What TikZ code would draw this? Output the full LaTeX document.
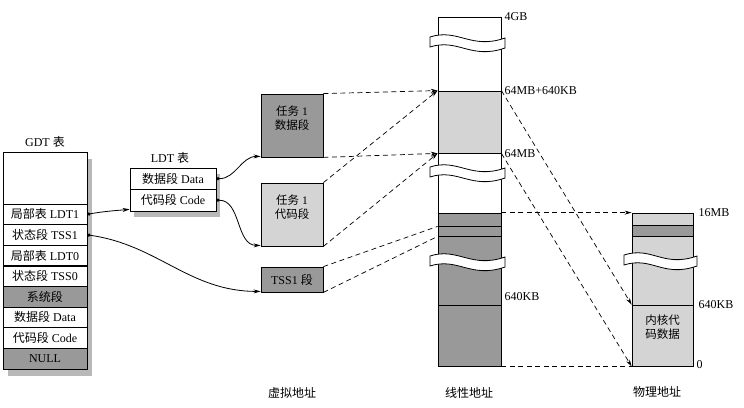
\documentclass[tikz,border=0pt]{standalone}
\usepackage{fontspec}
\setmainfont{Liberation Serif}
\newfontfamily\cjk{Noto Sans CJK SC}
\usetikzlibrary{arrows.meta}
\definecolor{segdark}{gray}{0.6}
\definecolor{seglight}{gray}{0.83}
\definecolor{boxshade}{gray}{0.72}
\newcommand{\zh}[1]{{\cjk #1}}
% wavy break band across a column: left x, right x, centre y
\newcommand{\brkband}[3]{%
  \draw[fill=white] (#1-8,#3-5) .. controls (#1+20,#3-14) and (#2-30,#3+8) .. (#2+4,#3-4)
    -- (#2+4,#3+6) .. controls (#2-30,#3+18) and (#1+20,#3-4) .. (#1-8,#3+5) -- cycle;}

\begin{document}
\begin{tikzpicture}[x=1pt, y=-1pt, line width=0.8pt,
  font=\fontsize{12pt}{13pt}\selectfont,
  gdtrow/.style={draw, rectangle, fill=white, minimum width=84pt, minimum height=20.6pt, inner sep=0pt},
  ldtrow/.style={draw, rectangle, fill=white, minimum width=86pt, minimum height=21.5pt, inner sep=0pt},
  seg/.style={draw, rectangle, minimum width=62pt, inner sep=0pt, align=center},
  twoline/.style={font=\fontsize{11.5pt}{14pt}\selectfont},
  lincol/.style={draw, rectangle, minimum width=63pt, inner sep=0pt},
  phycol/.style={draw, rectangle, minimum width=61pt, inner sep=0pt, align=center},
  arrow/.style={{Circle[length=3.2pt]}-{Stealth[length=7pt,width=4pt]}},
  dashline/.style={dash pattern=on 5pt off 3.5pt, line width=0.7pt},
  dasharrow/.style={dashline, -{Stealth[length=7pt,width=4pt]}}
]
\useasboundingbox (0,0) rectangle (744,407);

% GDT table
\fill[boxshade] (8,159) rectangle (92,376);
\node at (45,142) {GDT \zh{表}};
\node[gdtrow, minimum height=52pt] (gtop) at (45,178) {};
\node[gdtrow] (gldt1) at (45,214.3) {\zh{局部表} LDT1};
\node[gdtrow] (gtss1) at (45,234.9) {\zh{状态段} TSS1};
\node[gdtrow] (gldt0) at (45,255.5) {\zh{局部表} LDT0};
\node[gdtrow] (gtss0) at (45,276.2) {\zh{状态段} TSS0};
\node[gdtrow, fill=segdark] (gsys) at (45,296.8) {\zh{系统段}};
\node[gdtrow] (gdata) at (45,317.4) {\zh{数据段} Data};
\node[gdtrow] (gcode) at (45,338.0) {\zh{代码段} Code};
\node[gdtrow, fill=segdark] (gnull) at (45,358.7) {NULL};

% LDT table
\fill[boxshade] (134,174) rectangle (220,217);
\node at (170,158) {LDT \zh{表}};
\node[ldtrow] (ldata) at (173,178.7) {\zh{数据段} Data};
\node[ldtrow] (lcode) at (173,200.2) {\zh{代码段} Code};

% virtual address segments
\node[seg, twoline, fill=segdark, minimum height=63pt] (dseg) at (292,125.5)
  {\zh{任务} 1\\\zh{数据段}\\[2pt]\mbox{}};
\node[seg, twoline, fill=seglight, minimum height=63pt] (cseg) at (292,214.5)
  {\zh{任务} 1\\\zh{代码段}\\[2pt]\mbox{}};
\node[seg, fill=segdark, minimum height=25pt] (tseg) at (292,279.5) {TSS1 \zh{段}};

% linear address space
\node[lincol, minimum height=74pt] (lintop) at (469.5,54) {};
\node[lincol, fill=seglight, minimum height=62pt] (lintask) at (469.5,122) {};
\node[lincol, minimum height=60pt] (linmid) at (469.5,183) {};
\node[lincol, fill=segdark, minimum height=13pt] (lina) at (469.5,219.5) {};
\node[lincol, fill=segdark, minimum height=10pt] (linb) at (469.5,231) {};
\node[lincol, fill=segdark, minimum height=69pt] (linc) at (469.5,270.5) {};
\node[lincol, fill=segdark, minimum height=61pt] (lind) at (469.5,335.5) {};
\brkband{438}{501}{42}
\brkband{438}{501}{172}
\brkband{438}{501}{261}
\node[anchor=west] (l4g) at (501,17) {4GB};
\node[anchor=west] (l64k) at (501,91) {64MB+640KB};
\node[anchor=west] (l64) at (501,154) {64MB};
\node[anchor=west] (l640) at (501,297) {640KB};

% physical address space
\node[phycol, fill=seglight, minimum height=12pt] (pha) at (662.5,219) {};
\node[phycol, fill=segdark, minimum height=11pt] (phb) at (662.5,230.5) {};
\node[phycol, fill=seglight, minimum height=69pt] (phc) at (662.5,270.5) {};
\node[phycol, twoline, fill=seglight, minimum height=61pt] (phd) at (662.5,335.5)
  {\zh{内核代}\\\zh{码数据}\\[4pt]\mbox{}};
\brkband{632}{693}{260}
\node[anchor=west] (p16) at (695,213) {16MB};
\node[anchor=west] (p640) at (695,305) {640KB};
\node[anchor=west] (p0) at (693,365) {0};

% captions
\node (vcap) at (292,393) {\zh{虚拟地址}};
\node (lcap) at (469,393) {\zh{线性地址}};
\node (pcap) at (657,392) {\zh{物理地址}};

% selectors and descriptors
\draw[arrow] (gldt1.east) to[out=10, in=185] ([yshift=2pt]lcode.south west);
\draw[arrow] (gtss1.east) to[out=-8, in=180] ([yshift=1pt]tseg.south west);
\draw[arrow] (ldata.east) to[out=0, in=180] ([yshift=1pt]dseg.south west);
\draw[arrow] (lcode.east) to[out=0, in=180] ([yshift=1pt]cseg.south west);

% segment to linear mapping
\draw[dasharrow] (dseg.north east) -- (lintask.north west);
\draw[dasharrow] (dseg.south east) -- (lintask.south west);
\draw[dasharrow] (cseg.north east) -- (lintask.north west);
\draw[dasharrow] (cseg.south east) -- (lintask.south west);
\draw[dashline] (tseg.north east) -- (lina.south west);
\draw[dashline] (tseg.south east) -- (linb.south west);

% linear to physical mapping
\draw[dasharrow] (lintask.north east) -- (phd.north west);
\draw[dasharrow] (lintask.south east) -- (phd.south west);
\draw[dasharrow] (lina.north east) -- (pha.north west);
\draw[dashline] (lind.south east) -- (phd.south west);
\end{tikzpicture}
\end{document}
